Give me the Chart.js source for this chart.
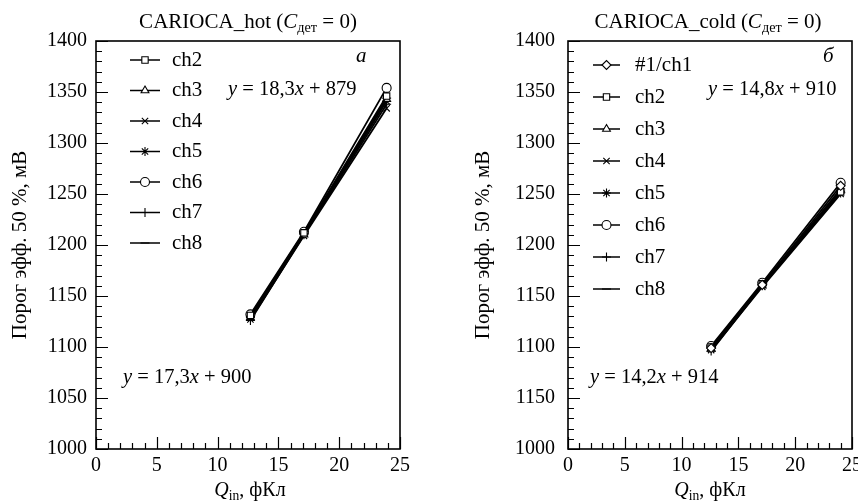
<!DOCTYPE html>
<html><head><meta charset="utf-8">
<script src="https://cdn.jsdelivr.net/npm/chart.js@4/dist/chart.umd.min.js"></script>
<style>
html,body{margin:0;padding:0;background:#fff;}
#wrap{position:relative;width:858px;height:504px;overflow:hidden;}
canvas{position:absolute;top:0;}
#cHot{left:0;} #cCold{left:429px;}
</style></head><body>
<div id="wrap"><canvas id="cHot" width="429" height="504"></canvas><canvas id="cCold" width="440" height="504"></canvas></div>
<script>
// ---------- DATA ----------
const hotQ = [12.7, 17.1, 23.9];
const hotLabels = ['ch2', 'ch3', 'ch4', 'ch5', 'ch6', 'ch7', 'ch8'];
const hotCh2 = [1131, 1212, 1346];
const hotCh3 = [1129, 1210, 1343];
const hotCh4 = [1127, 1209, 1334];
const hotCh5 = [1130, 1211, 1341];
const hotCh6 = [1132, 1213, 1354];
const hotCh7 = [1126, 1210, 1338];
const hotCh8 = [1129, 1211, 1344];

const coldQ = [12.6, 17.1, 24.0];
const coldLabels = ['#1/ch1', 'ch2', 'ch3', 'ch4', 'ch5', 'ch6', 'ch7', 'ch8'];
const coldCh1 = [1099, 1161, 1258];
const coldCh2 = [1100, 1162, 1252];
const coldCh3 = [1098, 1160, 1254];
const coldCh4 = [1097, 1159, 1250];
const coldCh5 = [1099, 1161, 1253];
const coldCh6 = [1101, 1163, 1261];
const coldCh7 = [1096, 1160, 1251];
const coldCh8 = [1099, 1160, 1255];

const xTickLabels = ['0', '5', '10', '15', '20', '25'];
const hotYTickLabels = ['1000', '1050', '1100', '1150', '1200', '1250', '1300', '1350', '1400'];
const coldYTickLabels = ['1000', '1150', '1100', '1150', '1200', '1250', '1300', '1350', '1400'];

const hotEqTop = ['18,3', '879'];
const hotEqBottom = ['17,3', '900'];
const coldEqTop = ['14,8', '910'];
const coldEqBottom = ['14,2', '914'];

// ---------- HELPERS ----------
const FONT = "'Liberation Serif', 'Times New Roman', serif";
const hotStyles = ['rect', 'triangle', 'crossRot', 'star', 'circle', 'cross', 'line'];
const coldStyles = ['rectRot', 'rect', 'triangle', 'crossRot', 'star', 'circle', 'cross', 'line'];

function makeDatasets(q, labels, series, styles) {
  return series.map((vals, i) => ({
    label: labels[i],
    data: q.map((x, j) => ({ x: x, y: vals[j] })),
    pointStyle: styles[i],
    borderColor: '#000',
    backgroundColor: '#fff',
    pointBackgroundColor: '#fff',
    pointBorderColor: '#000',
    borderWidth: 1.8,
    pointRadius: 4.5,
    pointBorderWidth: 1.1,
    tension: 0,
    fill: false
  }));
}

function drawRich(ctx, segs, x, y, align, size) {
  const f = (s) => (s.italic ? 'italic ' : '') + (s.sub ? size * 0.68 : size) + 'px ' + FONT;
  let total = 0;
  segs.forEach(s => { ctx.font = f(s); total += ctx.measureText(s.t).width; });
  let cx = align === 'center' ? x - total / 2 : x;
  ctx.textAlign = 'left';
  ctx.textBaseline = 'middle';
  ctx.fillStyle = '#000';
  segs.forEach(s => {
    ctx.font = f(s);
    ctx.fillText(s.t, cx, y + (s.sub ? size * 0.28 : 0));
    cx += ctx.measureText(s.t).width;
  });
}

function eqSegs(p) {
  return [
    { t: 'y', italic: true }, { t: ' = ' + p[0] }, { t: 'x', italic: true }, { t: ' + ' + p[1] }
  ];
}

const decor = {
  id: 'decor',
  afterDraw(chart, args, o) {
    const ctx = chart.ctx;
    const a = chart.chartArea;
    const xs = chart.scales.x, ys = chart.scales.y;
    ctx.save();
    // frame
    ctx.strokeStyle = '#000';
    ctx.lineWidth = 1.6;
    ctx.strokeRect(a.left, a.top, a.right - a.left, a.bottom - a.top);
    // inward ticks
    ctx.lineWidth = 1.2;
    ctx.beginPath();
    for (let v = 0; v <= 25; v += 1) {
      const px = Math.round(xs.getPixelForValue(v)) + 0.5;
      const len = v % 5 === 0 ? 12 : 6;
      ctx.moveTo(px, a.bottom); ctx.lineTo(px, a.bottom - len);
    }
    for (let v = 1000; v <= 1400; v += 10) {
      const py = Math.round(ys.getPixelForValue(v)) + 0.5;
      const len = v % 50 === 0 ? 12 : 6;
      ctx.moveTo(a.left, py); ctx.lineTo(a.left + len, py);
    }
    ctx.stroke();
    // title
    drawRich(ctx, [{ t: o.title + ' (' }, { t: 'C', italic: true }, { t: 'дет', sub: true }, { t: ' = 0)' }], o.titleX, 22, 'center', 21);
    // x title
    drawRich(ctx, [{ t: 'Q', italic: true }, { t: 'in', sub: true }, { t: ', фКл' }], o.xTitleX, 491, 'center', 20);
    // y title
    ctx.save();
    ctx.translate(o.yTitleX, (a.top + a.bottom) / 2);
    ctx.rotate(-Math.PI / 2);
    drawRich(ctx, [{ t: 'Порог эфф. 50 %, мВ' }], 0, 0, 'center', 21);
    ctx.restore();
    // equations
    drawRich(ctx, eqSegs(o.eqTop), o.eqTopX, 90, 'left', 20.5);
    drawRich(ctx, eqSegs(o.eqBottom), o.eqBottomX, 378, 'left', 20.5);
    drawRich(ctx, [{ t: o.letter, italic: true }], o.letterX, 56, 'left', 21);
    // legend
    chart.data.datasets.forEach((ds, i) => {
      const y = o.legY0 + i * o.legDy;
      ctx.strokeStyle = '#000';
      ctx.lineWidth = 1.5;
      ctx.beginPath();
      ctx.moveTo(o.legL0, y); ctx.lineTo(o.legL1, y);
      ctx.stroke();
      ctx.fillStyle = '#fff';
      ctx.strokeStyle = '#000';
      ctx.lineWidth = 1.1;
      Chart.helpers.drawPoint(ctx, { pointStyle: ds.pointStyle, radius: 4.5, borderWidth: 1.1, rotation: 0 }, (o.legL0 + o.legL1) / 2, y);
      drawRich(ctx, [{ t: ds.label }], o.legT, y, 'left', 21);
    });
    ctx.restore();
  }
};

function makeChart(id, datasets, yLabels, geom, opts) {
  return new Chart(document.getElementById(id), {
    type: 'line',
    data: { datasets: datasets },
    plugins: [decor],
    options: {
      responsive: false,
      animation: false,
      events: [],
      layout: { padding: { left: 0, right: geom.padRight, top: 41, bottom: 0 } },
      plugins: { legend: { display: false }, title: { display: false }, tooltip: { enabled: false }, decor: opts },
      scales: {
        x: {
          type: 'linear', min: 0, max: 25,
          grid: { display: false, drawTicks: false },
          border: { display: false },
          ticks: { stepSize: 5, padding: 5, color: '#000', font: { family: FONT, size: 20 }, maxRotation: 0,
                   callback: (v, i) => xTickLabels[i] },
          afterFit: (s) => { s.height = 55; }
        },
        y: {
          type: 'linear', min: 1000, max: 1400,
          grid: { display: false, drawTicks: false },
          border: { display: false },
          ticks: { stepSize: 50, padding: geom.yPad, color: '#000', font: { family: FONT, size: 20 },
                   callback: (v, i) => yLabels[i] },
          afterFit: (s) => { s.width = geom.yWidth; }
        }
      }
    }
  });
}

makeChart('cHot',
  makeDatasets(hotQ, hotLabels, [hotCh2, hotCh3, hotCh4, hotCh5, hotCh6, hotCh7, hotCh8], hotStyles),
  hotYTickLabels,
  { padRight: 29, yWidth: 96, yPad: 9 },
  { title: 'CARIOCA_hot', titleX: 248, xTitleX: 250, yTitleX: 20,
    eqTop: hotEqTop, eqTopX: 228, eqBottom: hotEqBottom, eqBottomX: 123,
    letter: 'а', letterX: 356,
    legY0: 60, legDy: 30.5, legL0: 130, legL1: 160, legT: 172 });

makeChart('cCold',
  makeDatasets(coldQ, coldLabels, [coldCh1, coldCh2, coldCh3, coldCh4, coldCh5, coldCh6, coldCh7, coldCh8], coldStyles),
  coldYTickLabels,
  { padRight: 17, yWidth: 139, yPad: 13 },
  { title: 'CARIOCA_cold', titleX: 279, xTitleX: 281, yTitleX: 54,
    eqTop: coldEqTop, eqTopX: 279, eqBottom: coldEqBottom, eqBottomX: 161,
    letter: 'б', letterX: 394,
    legY0: 65, legDy: 32, legL0: 164, legL1: 191, legT: 206 });
</script>
</body></html>
